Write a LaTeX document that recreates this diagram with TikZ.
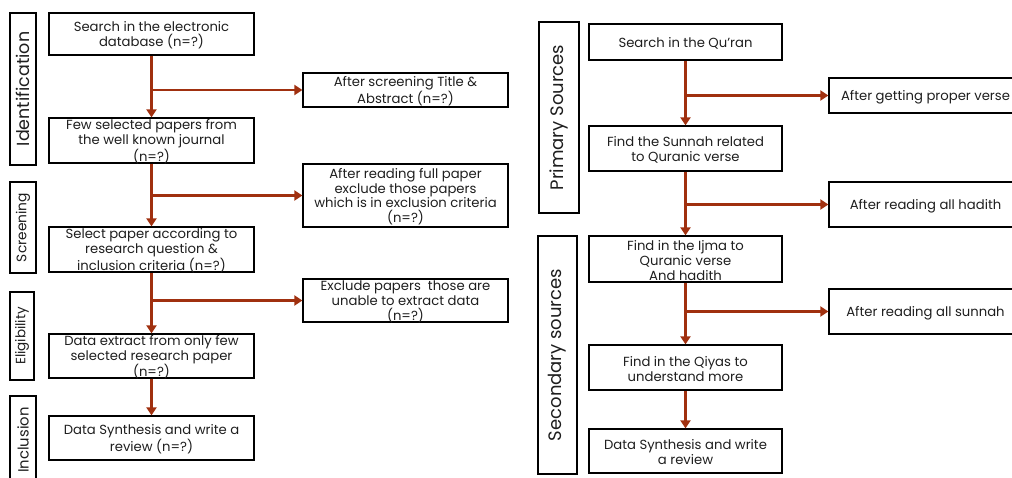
\documentclass[tikz,border=0pt]{standalone}
\usepackage{fontspec}
\setmainfont{Poppins}
\usetikzlibrary{arrows.meta}
\definecolor{flow}{HTML}{A0300F}
\definecolor{ink}{HTML}{1E1E1E}
% centred multi-line text that does not stretch its box
\newcommand{\boxlines}[2]{\raisebox{-7.5pt}{\smash{\parbox{#1}{\centering\fontsize{13.2}{14.8}\selectfont #2}}}}

\begin{document}
\begin{tikzpicture}[x=1pt,y=-1pt,
  frame/.style={draw=black, line width=1.3pt, inner sep=0pt, text=ink},
  leftbox/.style={frame, minimum width=205pt},
  rightbox/.style={frame, minimum width=193pt},
  phase/.style={frame, rotate=90, font=\fontsize{18}{18}\selectfont},
  arr/.style={draw=flow, line width=2.8pt, -{Triangle[width=10pt,length=8pt]}}
]
\useasboundingbox (0,0) rectangle (1012,478);
\clip (0,0) rectangle (1012,478);

% ---------------- left flow ----------------
\node[phase, minimum width=152pt, minimum height=26pt, font=\fontsize{17.5}{17.5}\selectfont] (pid) at (23,89) {Identification};
\node[phase, minimum width=91pt, minimum height=26pt, font=\fontsize{13.8}{13.8}\selectfont] (psc) at (23,227.5) {Screening};
\node[phase, minimum width=88pt, minimum height=24pt, font=\fontsize{13.5}{13.5}\selectfont] (pel) at (22,336) {Eligibility};
\node[phase, minimum width=88pt, minimum height=26pt, font=\fontsize{14.8}{14.8}\selectfont] (pin) at (23,440) {Inclusion};

\node[leftbox, minimum height=42pt] (a1) at (151.5,34) {\boxlines{200pt}{Search in the electronic\\database (n=?)}};
\node[leftbox, minimum height=45pt] (a2) at (151.5,140.5) {\boxlines{200pt}{Few selected papers from\\the well known journal\\(n=?)}};
\node[leftbox, minimum height=45pt] (a3) at (151.5,249.5) {\boxlines{200pt}{Select paper according to\\research question \&\\inclusion criteria (n=?)}};
\node[leftbox, minimum height=44pt] (a4) at (151.5,356) {\boxlines{200pt}{Data extract from only few\\selected research paper\\(n=?)}};
\node[leftbox, minimum height=44pt] (a5) at (151.5,438) {\boxlines{200pt}{Data Synthesis and write a\\review (n=?)}};

\node[leftbox, minimum height=34pt] (x1) at (405.5,90) {\boxlines{200pt}{After screening Title \&\\Abstract (n=?)}};
\node[leftbox, minimum height=63pt] (x2) at (405.5,195.5) {\boxlines{200pt}{After reading full paper\\exclude those papers\\which is in exclusion criteria\\(n=?)}};
\node[leftbox, minimum height=43pt] (x3) at (405.5,300.5) {\boxlines{200pt}{Exclude papers\ \ those are\\unable to extract data\\(n=?)}};

\draw[arr] (a1) -- (a2);
\draw[arr] (a2) -- (a3);
\draw[arr] (a3) -- (a4);
\draw[arr] (a4) -- (a5);
\draw[arr] (a1.south |- x1.west) -- (x1.west);
\draw[arr] (a2.south |- x2.west) -- (x2.west);
\draw[arr] (a3.south |- x3.west) -- (x3.west);

% ---------------- right flow ----------------
\node[phase, minimum width=191pt, minimum height=40pt] (pps) at (559,117.5) {Primary Sources};
\node[phase, minimum width=238pt, minimum height=39pt] (pss) at (557.5,355) {Secondary sources};

\node[rightbox, minimum height=36pt] (b1) at (685.5,42) {\boxlines{190pt}{Search in the Qu'ran}};
\node[rightbox, minimum height=45pt] (b2) at (685.5,148.5) {\boxlines{190pt}{Find the Sunnah related\\to Quranic verse}};
\node[rightbox, minimum height=46pt] (b3) at (685.5,259) {\boxlines{190pt}{Find in the Ijma to\\Quranic verse\\And hadith}};
\node[rightbox, minimum height=45pt] (b4) at (685.5,367.5) {\boxlines{190pt}{Find in the Qiyas to\\understand more}};
\node[rightbox, minimum height=44pt] (b5) at (685.5,451) {\boxlines{190pt}{Data Synthesis and write\\a review}};

\node[rightbox, minimum height=35pt] (y1) at (925.5,95.5) {\boxlines{190pt}{After getting proper verse}};
\node[rightbox, minimum height=45pt] (y2) at (925.5,204.5) {\boxlines{190pt}{After reading all hadith}};
\node[rightbox, minimum height=45pt] (y3) at (925.5,311.5) {\boxlines{190pt}{After reading all sunnah}};

\draw[arr] (b1) -- (b2);
\draw[arr] (b2) -- (b3);
\draw[arr] (b3) -- (b4);
\draw[arr] (b4) -- (b5);
\draw[arr] (b1.south |- y1.west) -- (y1.west);
\draw[arr] (b2.south |- y2.west) -- (y2.west);
\draw[arr] (b3.south |- y3.west) -- (y3.west);
\end{tikzpicture}
\end{document}
